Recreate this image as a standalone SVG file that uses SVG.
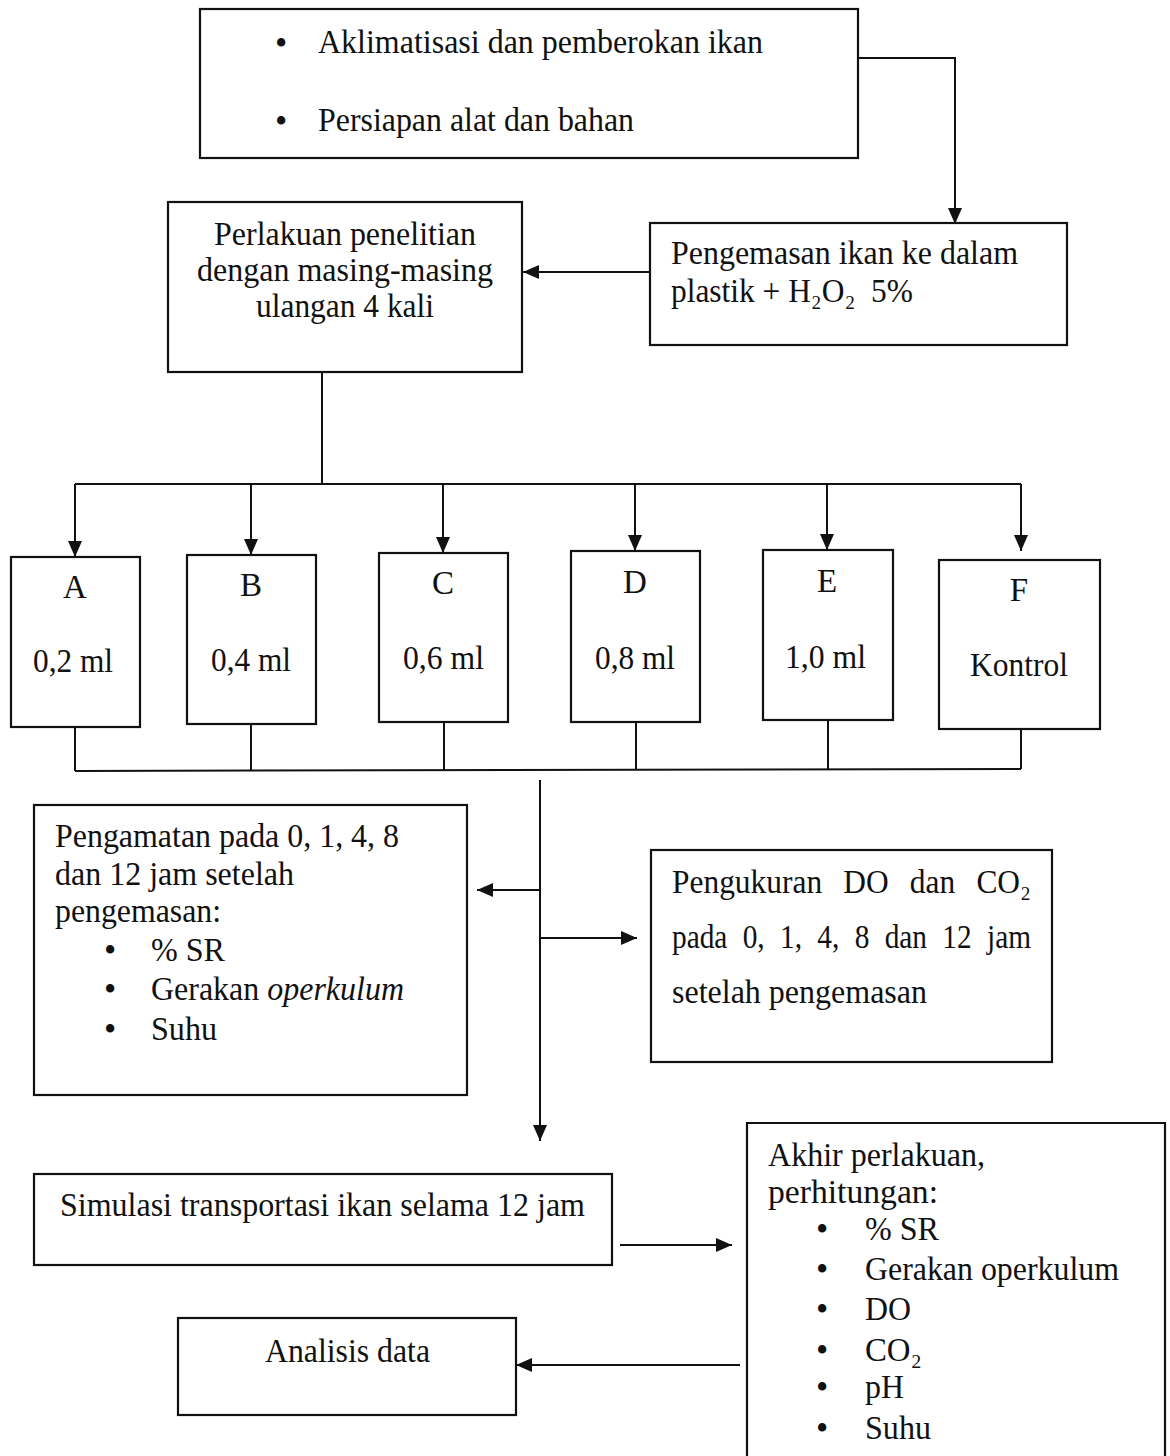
<svg xmlns="http://www.w3.org/2000/svg" width="1170" height="1456" viewBox="0 0 1170 1456">
<style>
  rect, .box { fill: #fff; stroke: #111; stroke-width: 2.2; }
  .c { fill: none; stroke: #111; stroke-width: 2; }
  text { font-family: "Liberation Serif", "Times New Roman", serif; font-size: 33px; fill: #111; }
  .m { text-anchor: middle; }
  .b { font-size: 35px; }
</style>
<defs>
  <marker id="ah" markerWidth="16" markerHeight="14" refX="16" refY="7" orient="auto" markerUnits="userSpaceOnUse">
    <path d="M0,0 L16,7 L0,14 z" fill="#111"/>
  </marker>
</defs>
<rect x="0" y="0" width="1170" height="1456" style="fill:#fff;stroke:none"/>

<g id="connectors">
  <polyline class="c" points="858,58 955,58 955,224" marker-end="url(#ah)"/>
  <line class="c" x1="650" y1="272" x2="523" y2="272" marker-end="url(#ah)"/>
  <line class="c" x1="322" y1="372" x2="322" y2="484"/>
  <line class="c" x1="75" y1="484" x2="1021" y2="484"/>
  <line class="c" x1="75" y1="484" x2="75" y2="557" marker-end="url(#ah)"/>
  <line class="c" x1="251" y1="484" x2="251" y2="555" marker-end="url(#ah)"/>
  <line class="c" x1="443" y1="484" x2="443" y2="553" marker-end="url(#ah)"/>
  <line class="c" x1="635" y1="484" x2="635" y2="551" marker-end="url(#ah)"/>
  <line class="c" x1="827" y1="484" x2="827" y2="550" marker-end="url(#ah)"/>
  <line class="c" x1="1021" y1="484" x2="1021" y2="551" marker-end="url(#ah)"/>
  <line class="c" x1="75" y1="727" x2="75" y2="771"/>
  <line class="c" x1="251" y1="724" x2="251" y2="771"/>
  <line class="c" x1="444" y1="722" x2="444" y2="771"/>
  <line class="c" x1="636" y1="722" x2="636" y2="770"/>
  <line class="c" x1="828" y1="720" x2="828" y2="770"/>
  <line class="c" x1="1021" y1="729" x2="1021" y2="769"/>
  <line class="c" x1="75" y1="771" x2="1021" y2="769"/>
  <line class="c" x1="540" y1="780" x2="540" y2="1141" marker-end="url(#ah)"/>
  <line class="c" x1="540" y1="890" x2="477" y2="890" marker-end="url(#ah)"/>
  <line class="c" x1="540" y1="938" x2="637" y2="938" marker-end="url(#ah)"/>
  <line class="c" x1="620" y1="1245" x2="732" y2="1245" marker-end="url(#ah)"/>
  <line class="c" x1="740" y1="1365" x2="516" y2="1365" marker-end="url(#ah)"/>
</g>

<g id="node-persiapan">
  <rect x="200" y="9" width="658" height="149"/>
  <text class="b" x="275" y="55">•</text>
  <text x="318" y="53" textLength="445" lengthAdjust="spacingAndGlyphs">Aklimatisasi dan pemberokan ikan</text>
  <text class="b" x="275" y="133">•</text>
  <text x="318" y="131" textLength="316" lengthAdjust="spacingAndGlyphs">Persiapan alat dan bahan</text>
</g>

<g id="node-pengemasan">
  <rect x="650" y="223" width="417" height="122"/>
  <text x="671" y="264" textLength="347" lengthAdjust="spacingAndGlyphs">Pengemasan ikan ke dalam</text>
  <text x="671" y="302" textLength="242" lengthAdjust="spacingAndGlyphs" xml:space="preserve">plastik + H₂O₂  5%</text>
</g>

<g id="node-perlakuan">
  <rect x="168" y="202" width="354" height="170"/>
  <text x="214" y="245" textLength="262" lengthAdjust="spacingAndGlyphs">Perlakuan penelitian</text>
  <text x="197" y="281" textLength="296" lengthAdjust="spacingAndGlyphs">dengan masing-masing</text>
  <text x="256" y="317" textLength="178" lengthAdjust="spacingAndGlyphs">ulangan 4 kali</text>
</g>

<g id="node-A">
  <rect x="11" y="557" width="129" height="170"/>
  <text class="m" x="75" y="598">A</text>
  <text x="33" y="672" textLength="80" lengthAdjust="spacingAndGlyphs">0,2 ml</text>
</g>
<g id="node-B">
  <rect x="187" y="555" width="129" height="169"/>
  <text class="m" x="251" y="596">B</text>
  <text x="211" y="671" textLength="80" lengthAdjust="spacingAndGlyphs">0,4 ml</text>
</g>
<g id="node-C">
  <rect x="379" y="553" width="129" height="169"/>
  <text class="m" x="443" y="594">C</text>
  <text x="403" y="669" textLength="81" lengthAdjust="spacingAndGlyphs">0,6 ml</text>
</g>
<g id="node-D">
  <rect x="571" y="551" width="129" height="171"/>
  <text class="m" x="635" y="593">D</text>
  <text x="595" y="669" textLength="80" lengthAdjust="spacingAndGlyphs">0,8 ml</text>
</g>
<g id="node-E">
  <rect x="763" y="550" width="130" height="170"/>
  <text class="m" x="827" y="592">E</text>
  <text x="785" y="668" textLength="81" lengthAdjust="spacingAndGlyphs">1,0 ml</text>
</g>
<g id="node-F">
  <rect x="939" y="560" width="161" height="169"/>
  <text class="m" x="1019" y="601">F</text>
  <text x="970" y="676" textLength="98" lengthAdjust="spacingAndGlyphs">Kontrol</text>
</g>

<g id="node-pengamatan">
  <rect x="34" y="805" width="433" height="290"/>
  <text x="55" y="847" textLength="344" lengthAdjust="spacingAndGlyphs">Pengamatan pada 0, 1, 4, 8</text>
  <text x="55" y="885" textLength="239" lengthAdjust="spacingAndGlyphs">dan 12 jam setelah</text>
  <text x="55" y="922" textLength="166" lengthAdjust="spacingAndGlyphs">pengemasan:</text>
  <text class="b" x="104" y="962">•</text>
  <text x="151" y="961" textLength="74" lengthAdjust="spacingAndGlyphs">% SR</text>
  <text class="b" x="104" y="1001">•</text>
  <text x="151" y="1000" textLength="253" lengthAdjust="spacingAndGlyphs">Gerakan <tspan font-style="italic">operkulum</tspan></text>
  <text class="b" x="104" y="1041">•</text>
  <text x="151" y="1040" textLength="66" lengthAdjust="spacingAndGlyphs">Suhu</text>
</g>

<g id="node-pengukuran">
  <rect x="651" y="850" width="401" height="212"/>
  <text x="672" y="893" word-spacing="14" textLength="359" lengthAdjust="spacingAndGlyphs">Pengukuran DO dan CO₂</text>
  <text x="672" y="948" word-spacing="9" textLength="359" lengthAdjust="spacingAndGlyphs">pada 0, 1, 4, 8 dan 12 jam</text>
  <text x="672" y="1003" textLength="255" lengthAdjust="spacingAndGlyphs">setelah pengemasan</text>
</g>

<g id="node-simulasi">
  <rect x="34" y="1174" width="578" height="91"/>
  <text x="60" y="1216" textLength="525" lengthAdjust="spacingAndGlyphs">Simulasi transportasi ikan selama 12 jam</text>
</g>

<g id="node-akhir">
  <path class="box" d="M747,1462 V1123 H1165 V1462"/>
  <text x="768" y="1166" textLength="217" lengthAdjust="spacingAndGlyphs">Akhir perlakuan,</text>
  <text x="768" y="1203" textLength="170" lengthAdjust="spacingAndGlyphs">perhitungan:</text>
  <text class="b" x="816" y="1241">•</text>
  <text x="865" y="1240" textLength="74" lengthAdjust="spacingAndGlyphs">% SR</text>
  <text class="b" x="816" y="1281">•</text>
  <text x="865" y="1280" textLength="254" lengthAdjust="spacingAndGlyphs">Gerakan operkulum</text>
  <text class="b" x="816" y="1321">•</text>
  <text x="865" y="1320" textLength="46" lengthAdjust="spacingAndGlyphs">DO</text>
  <text class="b" x="816" y="1362">•</text>
  <text x="865" y="1361" textLength="57" lengthAdjust="spacingAndGlyphs">CO₂</text>
  <text class="b" x="816" y="1399">•</text>
  <text x="865" y="1398" textLength="39" lengthAdjust="spacingAndGlyphs">pH</text>
  <text class="b" x="816" y="1440">•</text>
  <text x="865" y="1439" textLength="66" lengthAdjust="spacingAndGlyphs">Suhu</text>
</g>

<g id="node-analisis">
  <rect x="178" y="1318" width="338" height="97"/>
  <text x="265" y="1362" textLength="165" lengthAdjust="spacingAndGlyphs">Analisis data</text>
</g>
</svg>
